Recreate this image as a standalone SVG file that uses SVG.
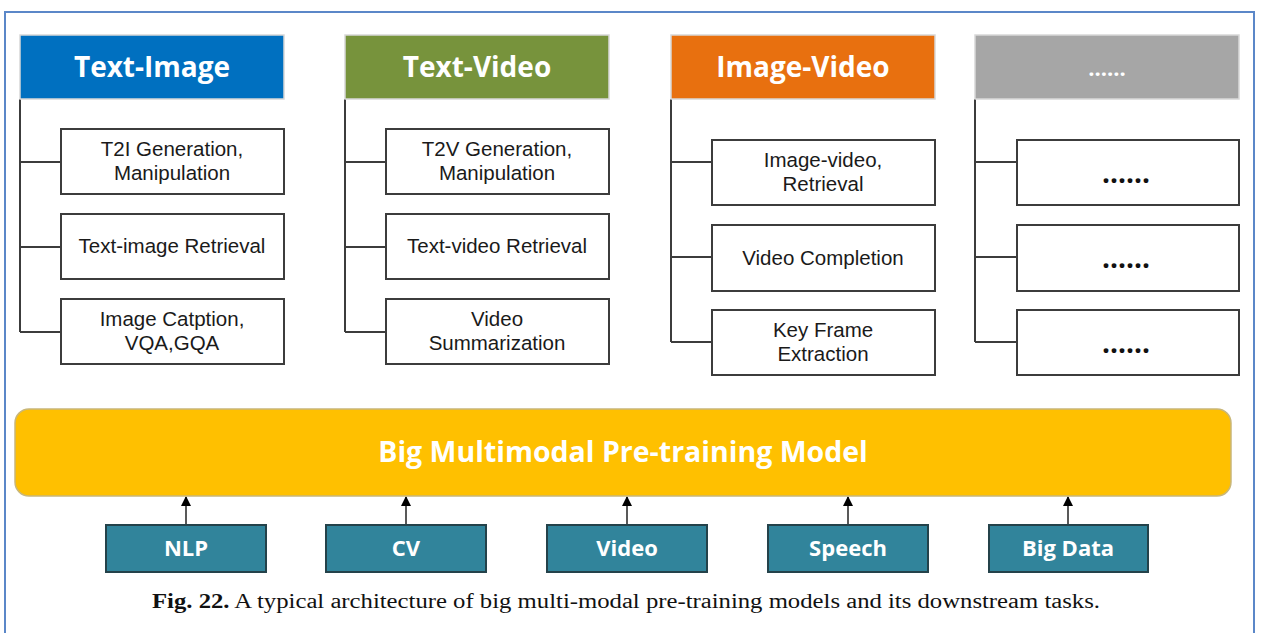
<svg xmlns="http://www.w3.org/2000/svg" width="1264" height="633" viewBox="0 0 1264 633">
<defs>
<style>
.hdr{stroke:#d8d8d8;stroke-width:1.5}
.ht{font-family:"Open Sans","Noto Sans",sans-serif;font-weight:bold;font-size:28px;fill:#fff;text-anchor:middle}
.box{fill:#fff;stroke:#3c3c3c;stroke-width:2}
.bt{font-family:"Liberation Sans",Arial,sans-serif;font-size:20.5px;fill:#1a1a1a;text-anchor:middle}
.dots{font-family:"Open Sans","Noto Sans",sans-serif;font-size:28px;font-weight:bold;fill:#111;text-anchor:middle}
.tree{fill:none;stroke:#3c3c3c;stroke-width:2}
.src{fill:#31849B;stroke:#24424a;stroke-width:2}
.st{font-family:"Open Sans","Noto Sans",sans-serif;font-weight:bold;font-size:22px;fill:#fff;text-anchor:middle}
.arr{stroke:#222;stroke-width:1.5;marker-end:url(#ah)}
</style>
<marker id="ah" markerWidth="10" markerHeight="12" refX="9" refY="5" orient="auto" markerUnits="userSpaceOnUse">
<path d="M0,0 L10,5 L0,10 Z" fill="#000"/>
</marker>
</defs>
<rect width="1264" height="633" fill="#fff"/>
<rect x="5" y="12" width="1249" height="660" fill="none" stroke="#5b87c8" stroke-width="2"/>

<g id="connectors">
<path class="tree" d="M20,99 V332 M20,162 H61 M20,247 H61 M20,332 H61"/>
<path class="tree" d="M345,99 V332 M345,162 H386 M345,247 H386 M345,332 H386"/>
<path class="tree" d="M671,99 V342 M671,162 H712 M671,257 H712 M671,342 H712"/>
<path class="tree" d="M975,99 V342 M975,162 H1017 M975,257 H1017 M975,342 H1017"/>
<line class="arr" x1="186" y1="525" x2="186" y2="497"/>
<line class="arr" x1="406" y1="525" x2="406" y2="497"/>
<line class="arr" x1="627" y1="525" x2="627" y2="497"/>
<line class="arr" x1="848" y1="525" x2="848" y2="497"/>
<line class="arr" x1="1068" y1="525" x2="1068" y2="497"/>
</g>

<g id="text-image">
<rect class="hdr" x="20" y="35" width="264" height="64" fill="#0070C0"/>
<text class="ht" x="152" y="77">Text-Image</text>
</g>
<g id="t2i-gen">
<rect class="box" x="61" y="129" width="223" height="65"/>
<text class="bt" x="172" y="156">T2I Generation,</text>
<text class="bt" x="172" y="180">Manipulation</text>
</g>
<g id="ti-retrieval">
<rect class="box" x="61" y="214" width="223" height="65"/>
<text class="bt" x="172" y="253">Text-image Retrieval</text>
</g>
<g id="img-caption">
<rect class="box" x="61" y="299" width="223" height="65"/>
<text class="bt" x="172" y="326">Image Catption,</text>
<text class="bt" x="172" y="350">VQA,GQA</text>
</g>

<g id="text-video">
<rect class="hdr" x="345" y="35" width="264" height="64" fill="#77933C"/>
<text class="ht" x="477" y="77">Text-Video</text>
</g>
<g id="t2v-gen">
<rect class="box" x="386" y="129" width="223" height="65"/>
<text class="bt" x="497" y="156">T2V Generation,</text>
<text class="bt" x="497" y="180">Manipulation</text>
</g>
<g id="tv-retrieval">
<rect class="box" x="386" y="214" width="223" height="65"/>
<text class="bt" x="497" y="253">Text-video Retrieval</text>
</g>
<g id="video-summ">
<rect class="box" x="386" y="299" width="223" height="65"/>
<text class="bt" x="497" y="326">Video</text>
<text class="bt" x="497" y="350">Summarization</text>
</g>

<g id="image-video">
<rect class="hdr" x="671" y="35" width="264" height="64" fill="#E8700F"/>
<text class="ht" x="803" y="77">Image-Video</text>
</g>
<g id="iv-retrieval">
<rect class="box" x="712" y="140" width="223" height="65"/>
<text class="bt" x="823" y="167">Image-video,</text>
<text class="bt" x="823" y="191">Retrieval</text>
</g>
<g id="video-completion">
<rect class="box" x="712" y="225" width="223" height="66"/>
<text class="bt" x="823" y="265">Video Completion</text>
</g>
<g id="key-frame">
<rect class="box" x="712" y="310" width="223" height="65"/>
<text class="bt" x="823" y="337">Key Frame</text>
<text class="bt" x="823" y="361">Extraction</text>
</g>

<g id="more">
<rect class="hdr" x="975" y="35" width="264" height="64" fill="#A6A6A6"/>
<text class="ht" x="1107" y="76" style="font-size:22px">......</text>
</g>
<g id="more-1">
<rect class="box" x="1017" y="140" width="222" height="65"/>
<text class="dots" x="1126" y="183">......</text>
</g>
<g id="more-2">
<rect class="box" x="1017" y="225" width="222" height="66"/>
<text class="dots" x="1126" y="268">......</text>
</g>
<g id="more-3">
<rect class="box" x="1017" y="310" width="222" height="65"/>
<text class="dots" x="1126" y="353">......</text>
</g>

<g id="model">
<rect x="15" y="409" width="1216" height="87" rx="14" fill="#FFC000" stroke="#c9b77a" stroke-width="1.5"/>
<text x="623" y="462" style="font-family:'Open Sans','Noto Sans',sans-serif;font-weight:bold;font-size:28.5px;fill:#fff;text-anchor:middle">Big Multimodal Pre-training Model</text>
</g>

<g id="nlp"><rect class="src" x="106" y="525" width="160" height="47"/><text class="st" x="186" y="556">NLP</text></g>
<g id="cv"><rect class="src" x="326" y="525" width="160" height="47"/><text class="st" x="406" y="556">CV</text></g>
<g id="video"><rect class="src" x="547" y="525" width="160" height="47"/><text class="st" x="627" y="556">Video</text></g>
<g id="speech"><rect class="src" x="768" y="525" width="160" height="47"/><text class="st" x="848" y="556">Speech</text></g>
<g id="bigdata"><rect class="src" x="989" y="525" width="159" height="47"/><text class="st" x="1068" y="556">Big Data</text></g>

<text x="152" y="608" textLength="948" lengthAdjust="spacingAndGlyphs" style="font-family:'Liberation Serif',serif;font-size:20px;fill:#111"><tspan font-weight="bold">Fig. 22.</tspan> A typical architecture of big multi-modal pre-training models and its downstream tasks.</text>
</svg>
